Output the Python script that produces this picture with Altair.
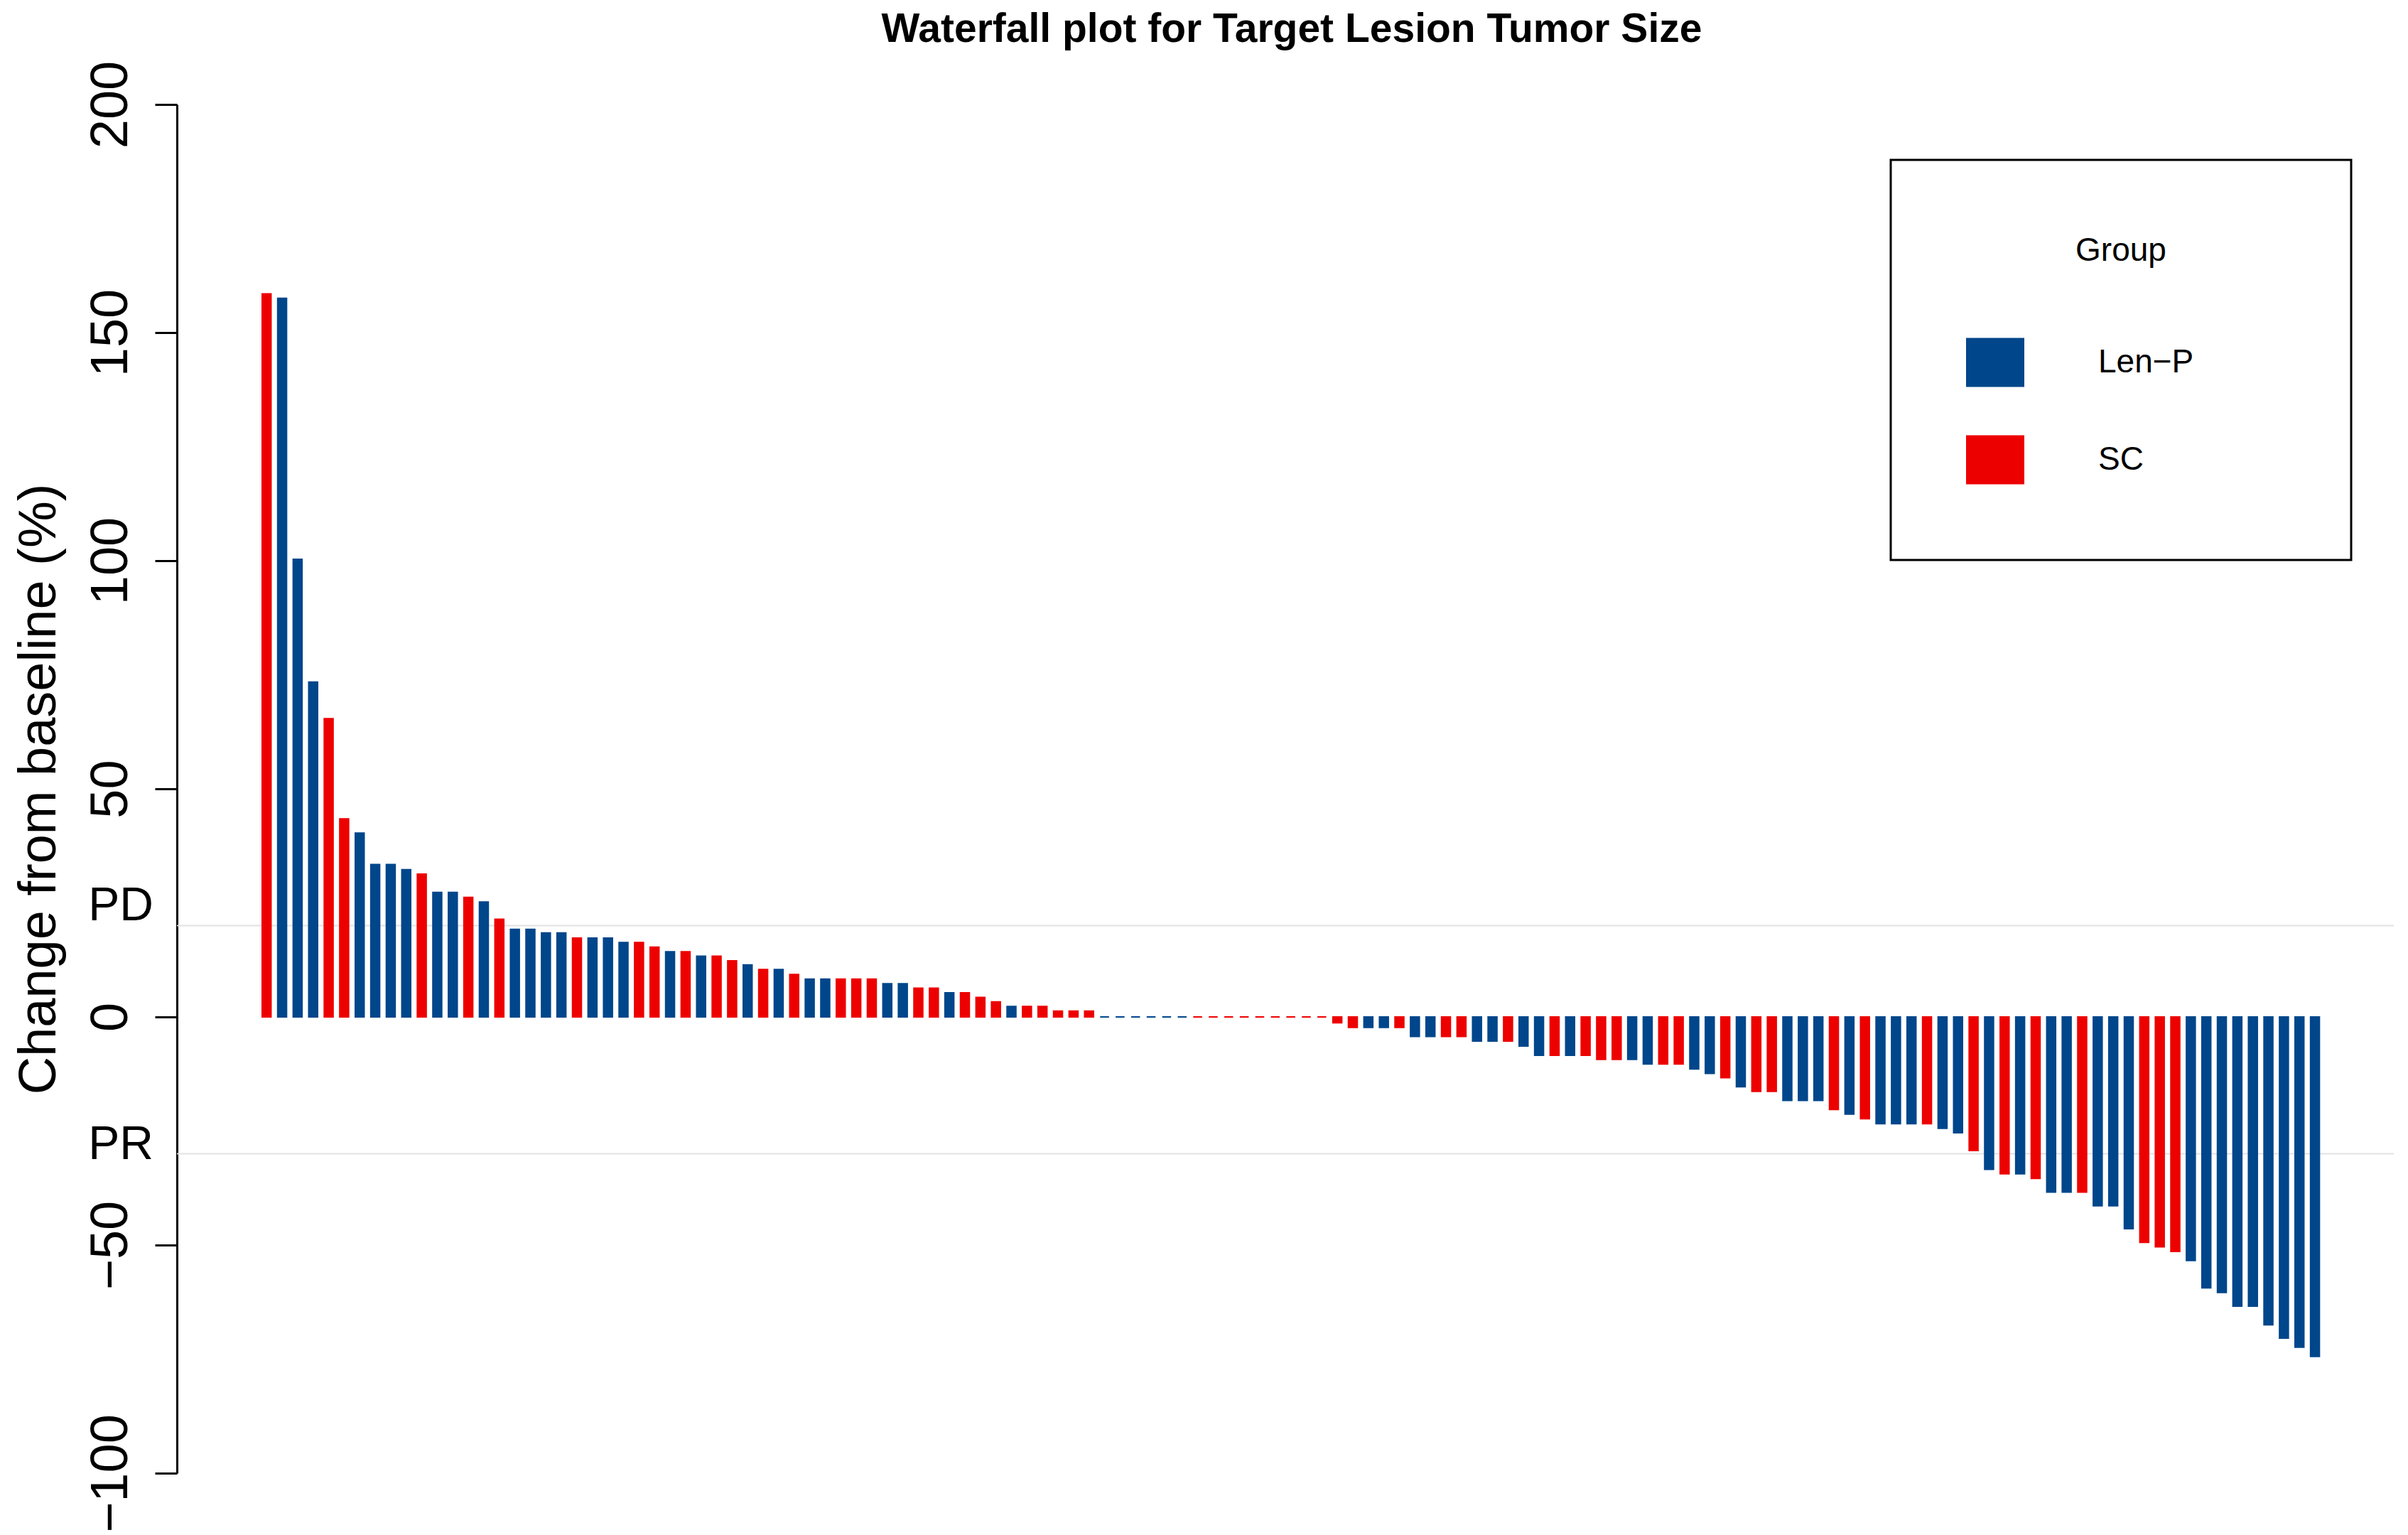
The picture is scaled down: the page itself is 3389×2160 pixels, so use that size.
import altair as alt
import pandas as pd

LP = "Len\u2212P"
SC = "SC"

values = [
    158.5, 157.5, 100.3, 73.4, 65.4, 43.4, 40.3, 33.4, 33.4, 32.3,
    31.3, 27.3, 27.3, 26.2, 25.2, 21.4, 19.2, 19.2, 18.4, 18.4,
    17.3, 17.3, 17.3, 16.3, 16.3, 15.3, 14.3, 14.3, 13.3, 13.3,
    12.3, 11.4, 10.4, 10.4, 9.3, 8.3, 8.3, 8.3, 8.3, 8.3,
    7.3, 7.3, 6.3, 6.3, 5.3, 5.3, 4.3, 3.3, 2.3, 2.3,
    2.3, 1.3, 1.3, 1.3, 0, 0, 0, 0, 0, 0,
    0, 0, 0, 0, 0, 0, 0, 0, 0, -1.3,
    -2.3, -2.3, -2.3, -2.3, -4.3, -4.3, -4.3, -4.3, -5.3, -5.3,
    -5.3, -6.4, -8.4, -8.4, -8.4, -8.4, -9.3, -9.3, -9.3, -10.3,
    -10.3, -10.3, -11.4, -12.4, -13.3, -15.3, -16.3, -16.3, -18.3, -18.3,
    -18.3, -20.3, -21.3, -22.3, -23.4, -23.4, -23.4, -23.4, -24.4, -25.4,
    -29.3, -33.4, -34.4, -34.4, -35.4, -38.4, -38.4, -38.4, -41.4, -41.4,
    -46.4, -49.4, -50.4, -51.4, -53.4, -59.4, -60.4, -63.4, -63.4, -67.5,
    -70.4, -72.4, -74.4,
]

groups = [
    SC, LP, LP, LP, SC, SC, LP, LP, LP, LP,
    SC, LP, LP, SC, LP, SC, LP, LP, LP, LP,
    SC, LP, LP, LP, SC, SC, LP, SC, LP, SC,
    SC, LP, SC, LP, SC, LP, LP, SC, SC, SC,
    LP, LP, SC, SC, LP, SC, SC, SC, LP, SC,
    SC, SC, SC, SC, LP, LP, LP, LP, LP, LP,
    SC, SC, SC, SC, SC, SC, SC, SC, SC, SC,
    SC, LP, LP, SC, LP, LP, SC, SC, LP, LP,
    SC, LP, LP, SC, LP, SC, SC, SC, LP, LP,
    SC, SC, LP, LP, SC, LP, SC, SC, LP, LP,
    LP, SC, LP, SC, LP, LP, LP, SC, LP, LP,
    SC, LP, SC, LP, SC, LP, LP, SC, LP, LP,
    LP, SC, SC, SC, LP, LP, LP, LP, LP, LP,
    LP, LP, LP,
]

group_names = [LP, SC]
group_colors = ["#00468B", "#ED0000"]

ref_labels = ["PD", "PR"]
ref_values = [20, -30]

y_ticks = [-100, -50, 0, 50, 100, 150, 200]

FONT = "Liberation Sans"
W = 3120
H = 1926

bars_df = pd.DataFrame({
    "patient": list(range(1, len(values) + 1)),
    "change": values,
    "group": groups,
})
ref_df = pd.DataFrame({"label": ref_labels, "value": ref_values})

color_scale = alt.Scale(domain=group_names, range=group_colors)
x_scale = alt.Scale(domain=[-4.55, 137.85], nice=False, zero=False)
y_scale = alt.Scale(domain=[-100, 200], nice=False)

y_axis = alt.Axis(
    values=y_ticks,
    grid=False,
    labelAngle=270,
    labelAlign="center",
    labelBaseline="alphabetic",
    labelFont=FONT,
    labelFontSize=74,
    labelColor="black",
    labelPadding=40,
    labelFlush=False,
    labelOverlap=False,
    tickSize=31,
    tickWidth=3,
    tickColor="black",
    domainColor="black",
    domainWidth=3,
    title="Change from baseline (%)",
    titleFont=FONT,
    titleFontSize=74,
    titleFontWeight="normal",
    titleColor="black",
    titleAngle=270,
    titleAlign="center",
    titleBaseline="alphabetic",
    titleX=-172,
    titleY=H / 2,
)

rules = alt.Chart(ref_df).mark_rule(color="#E2E2E2", strokeWidth=2).encode(
    y=alt.Y("value:Q", scale=y_scale, axis=y_axis)
)

# trailing no-break spaces kept by a zero-width space widen the legend box
label_pad = "\u00a0" * 9 + "\u200b"

bars = alt.Chart(bars_df).mark_bar(orient="vertical", size=12.5, strokeWidth=2).encode(
    x=alt.X("patient:Q", scale=x_scale, axis=None),
    y=alt.Y("change:Q", scale=y_scale, axis=y_axis, stack=None),
    color=alt.Color(
        "group:N",
        scale=color_scale,
        legend=alt.Legend(
            title="Group",
            orient="none",
            legendX=2412,
            legendY=78,
            direction="vertical",
            padding=106,
            strokeColor="black",
            titleFont=FONT,
            titleFontSize=46,
            titleFontWeight="normal",
            titleColor="black",
            titleAnchor="middle",
            titleBaseline="top",
            titlePadding=92,
            labelFont=FONT,
            labelFontSize=46,
            labelColor="black",
            labelOffset=104,
            labelLimit=600,
            labelBaseline="middle",
            labelExpr="datum.label + '" + label_pad + "'",
            symbolType="M-1,-0.84L1,-0.84L1,0.84L-1,0.84Z",
            symbolSize=6724,
            symbolStrokeWidth=0,
            symbolOpacity=1,
            rowPadding=61,
        ),
    ),
    stroke=alt.Stroke("group:N", scale=color_scale, legend=None),
)

text_base = alt.Chart(ref_df).encode(
    x=alt.value(-33),
    y=alt.Y("value:Q", scale=y_scale, axis=y_axis),
    text="label:N",
)
pd_text = text_base.transform_filter(alt.datum.value > 0).mark_text(
    align="right", baseline="alphabetic", font=FONT, fontSize=66, color="black", dy=-8
)
pr_text = text_base.transform_filter(alt.datum.value < 0).mark_text(
    align="right", baseline="alphabetic", font=FONT, fontSize=66, color="black", dy=7
)

chart = (
    alt.layer(rules, bars, pd_text, pr_text)
    .properties(
        width=W,
        height=H,
        title=alt.TitleParams(
            "Waterfall plot for Target Lesion Tumor Size",
            font=FONT,
            fontSize=57,
            fontWeight="bold",
            color="black",
            anchor="middle",
            offset=14,
            dx=9,
        ),
        autosize=alt.AutoSizeParams(type="none"),
        padding={"left": 241, "top": 139, "right": 10, "bottom": 86},
        background="white",
    )
    .configure_view(stroke=None)
    .configure_legend(strokeWidth=3)
)

chart.save("out.html", embed_options={"renderer": "svg", "actions": False})
